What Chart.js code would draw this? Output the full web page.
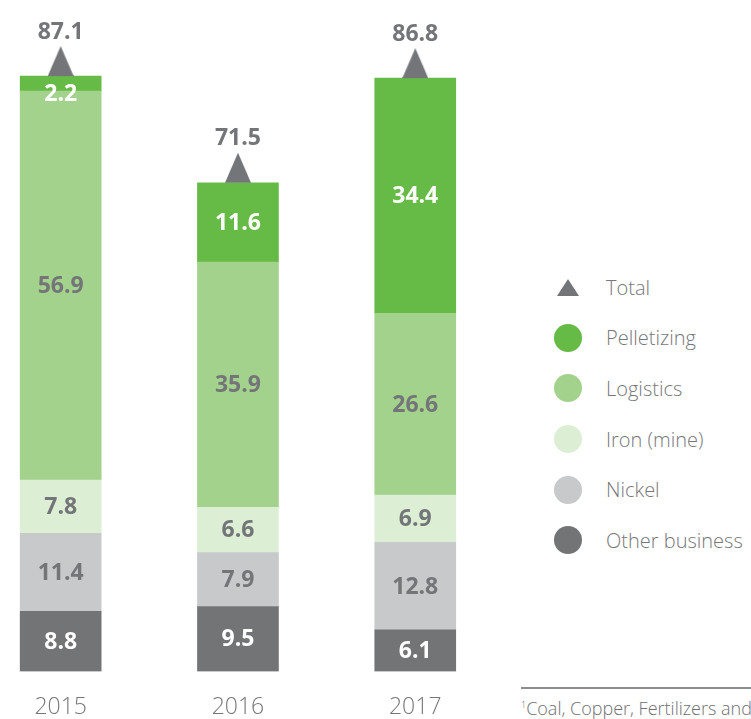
<!DOCTYPE html>
<html>
<head>
<meta charset="utf-8">
<script src="https://cdn.jsdelivr.net/npm/chart.js@4"></script>
<style>
  html, body { margin: 0; padding: 0; background: #fff; width: 751px; height: 719px; overflow: hidden; font-family: "Open Sans", sans-serif; position: relative; }
  #wrap { position: absolute; left: 0; top: 0; width: 480px; height: 743px; }
  #legend { position: absolute; left: 554px; top: 262px; margin: 0; padding: 0; list-style: none; }
  #legend li { height: 50.6px; display: flex; align-items: center; font-size: 20px; font-weight: 300; color: #767779; white-space: nowrap; }
  #legend .mk { width: 28px; height: 28px; border-radius: 50%; margin-right: 24px; flex: none; }
  #legend .tri { width: 0; height: 0; border-left: 11px solid transparent; border-right: 11px solid transparent; border-bottom: 17px solid #747578; margin: 0 27px 0 3px; flex: none; }
  #note { position: absolute; left: 521px; top: 687px; width: 240px; border-top: 2px solid #8c8c8c; padding-top: 7px; font-size: 18px; font-weight: 300; color: #6f7072; white-space: nowrap; }
</style>
</head>
<body>
<div id="wrap"><canvas id="chart"></canvas></div>
<ul id="legend"></ul>
<div id="note"><sup style="font-size:9px">1</sup>Coal, Copper, Fertilizers and others</div>
<script>
const years = ['2015', '2016', '2017'];
const other = [8.8, 9.5, 6.1];
const nickel = [11.4, 7.9, 12.8];
const iron = [7.8, 6.6, 6.9];
const logistics = [56.9, 35.9, 26.6];
const pelletizing = [2.2, 11.6, 34.4];
const totals = [87.1, 71.5, 86.8];

const gray = '#747578';

// bottom to top
const series = [
  { label: 'Other business', data: other, color: '#737476', text: '#fff' },
  { label: 'Nickel', data: nickel, color: '#c8c9cb', text: gray },
  { label: 'Iron (mine)', data: iron, color: '#dcefd5', text: gray },
  { label: 'Logistics', data: logistics, color: '#a3d28c', text: gray },
  { label: 'Pelletizing', data: pelletizing, color: '#66bb46', text: '#fff' }
];

// triangle marker, base sits on the point
const tri = document.createElement('canvas');
tri.width = 26; tri.height = 60;
const tc = tri.getContext('2d');
tc.fillStyle = gray;
tc.beginPath(); tc.moveTo(13, 0); tc.lineTo(26, 30); tc.lineTo(0, 30); tc.closePath(); tc.fill();

const datasets = [{
  type: 'line',
  label: 'Total',
  data: totals.map((v, i) => ({ x: i, y: v })),
  showLine: false,
  pointStyle: tri,
  clip: false
}];
series.forEach(s => datasets.push({
  type: 'bar',
  label: s.label,
  data: s.data.map((v, i) => ({ x: i, y: v })),
  backgroundColor: s.color,
  barThickness: 81,
  borderWidth: 0
}));

const valueLabels = {
  id: 'valueLabels',
  afterDatasetsDraw(chart) {
    const ctx = chart.ctx;
    ctx.save();
    ctx.font = 'bold 23px "Open Sans"';
    ctx.textAlign = 'center';
    ctx.textBaseline = 'middle';
    series.forEach((s, k) => {
      chart.getDatasetMeta(k + 1).data.forEach((el, j) => {
        const h = el.base - el.y;
        // thin segments: label hangs just below the segment
        const cy = h < 24 ? el.base + 3 : (el.y + el.base) / 2 + 1;
        ctx.fillStyle = s.text;
        ctx.fillText(s.data[j].toFixed(1), el.x, cy);
      });
    });
    ctx.fillStyle = gray;
    chart.getDatasetMeta(0).data.forEach((el, j) => {
      ctx.fillText(totals[j].toFixed(1), el.x, el.y - 44);
    });
    ctx.restore();
  }
};

new Chart(document.getElementById('chart'), {
  data: { datasets: datasets },
  options: {
    responsive: true,
    maintainAspectRatio: false,
    animation: false,
    events: [],
    layout: { padding: 0 },
    plugins: { legend: { display: false }, tooltip: { enabled: false } },
    scales: {
      x: {
        type: 'linear',
        stacked: true,
        offset: false,
        min: -0.314,
        max: 2.337,
        afterBuildTicks: s => { s.ticks = years.map((y, i) => ({ value: i })); },
        grid: { display: false, drawTicks: false },
        border: { display: false },
        ticks: {
          padding: 22,
          autoSkip: false,
          maxRotation: 0,
          color: '#767779',
          font: { family: 'Open Sans', size: 23, weight: 300 },
          callback: v => years[v]
        }
      },
      y: {
        stacked: true,
        display: false,
        min: 0,
        max: 97.5
      }
    }
  },
  plugins: [valueLabels]
});

const legend = document.getElementById('legend');
const items = [{ label: 'Total', tri: true }].concat(series.slice().reverse());
items.forEach(it => {
  const li = document.createElement('li');
  const mk = document.createElement('span');
  if (it.tri) mk.className = 'tri';
  else { mk.className = 'mk'; mk.style.background = it.color; }
  li.appendChild(mk);
  li.appendChild(document.createTextNode(it.label));
  legend.appendChild(li);
});
</script>
</body>
</html>
